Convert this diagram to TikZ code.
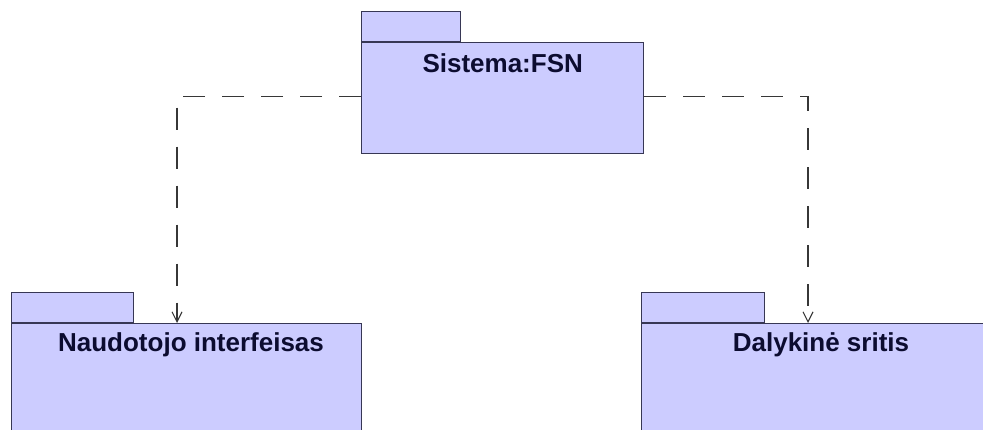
\documentclass[tikz,border=0pt]{standalone}
\usepackage{fontspec}
\newfontfamily\labfont{Liberation Sans}
\usetikzlibrary{arrows.meta,calc}
\definecolor{pkgfill}{RGB}{204,204,255}
\definecolor{pkgline}{RGB}{55,55,85}
\definecolor{pkgtext}{RGB}{12,12,48}
\definecolor{depline}{RGB}{55,55,55}
\begin{document}
\begin{tikzpicture}[x=1pt,y=-1pt,
  pkgbody/.style={draw=pkgline,fill=pkgfill,line width=1.4pt,rectangle,inner sep=0pt,anchor=north west},
  pkgtab/.style={draw=pkgline,fill=pkgfill,line width=1.4pt,rectangle,inner sep=0pt,anchor=south west,minimum height=30pt},
  pkgtitle/.style={font=\labfont\bfseries\fontsize{26}{29}\selectfont,text=pkgtext,inner sep=0pt,anchor=center},
  dep/.style={draw=depline,line width=1.2pt,dash pattern=on 22pt off 17pt,-{Straight Barb[length=10pt,width=10pt,line width=1.1pt]}}]
\clip (0,0) rectangle (983,430);
\fill[white] (0,0) rectangle (983,430);
% top package
\node[pkgbody,minimum width=282pt,minimum height=111pt] (sys) at (361,42) {};
\node[pkgtab,minimum width=99pt] (systab) at (sys.north west) {};
\node[pkgtitle] (syst) at ($(sys.north)+(0,21.5)$) {Sistema:FSN};
% left package
\node[pkgbody,minimum width=350pt,minimum height=130pt] (ui) at (11,323) {};
\node[pkgtab,minimum width=122pt] (uitab) at (ui.north west) {};
\node[pkgtitle] (uit) at ($(ui.north west)+(180,22)$) {Naudotojo interfeisas};
% right package
\node[pkgbody,minimum width=360pt,minimum height=130pt] (dom) at (641,323) {};
\node[pkgtab,minimum width=123pt] (domtab) at (dom.north west) {};
\node[pkgtitle] (domt) at ($(dom.north west)+(180,22)$) {Dalykinė sritis};
% connector points
\coordinate (sysl) at ($(sys.west)+(0,-1.5)$);
\coordinate (sysr) at ($(sys.east)+(0,-1.5)$);
\coordinate (uia) at ($(ui.north west)+(166,0)$);
\coordinate (doma) at ($(dom.north west)+(167,0)$);
\draw[dep] (sysl) -| (uia);
\draw[dep] (sysr) -| (doma);
\end{tikzpicture}
\end{document}
